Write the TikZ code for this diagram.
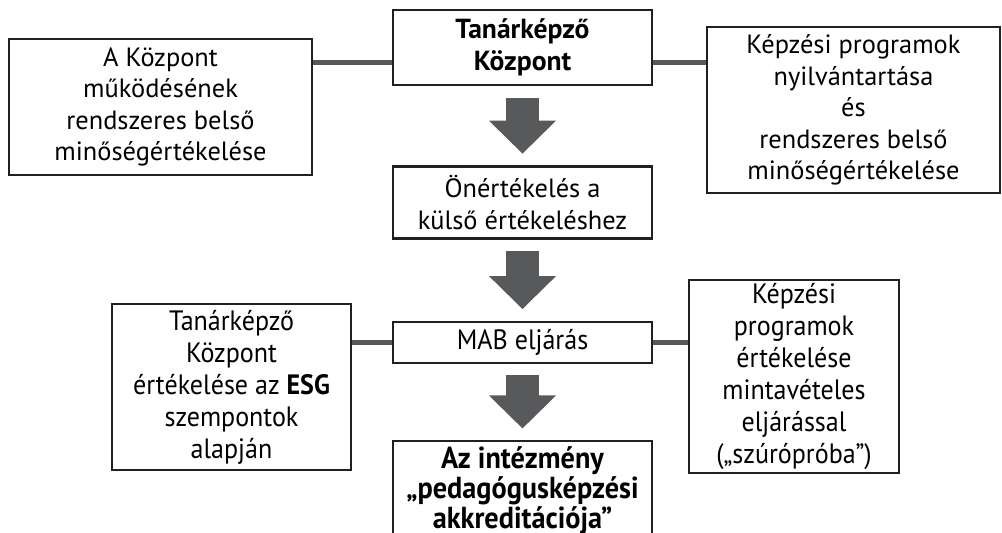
\documentclass[tikz,border=0pt]{standalone}
\usepackage{fontspec}
\setmainfont{PT Sans}
\newfontfamily\condfont[FakeStretch=0.93]{PT Sans}
\usepackage{tikz}
\usetikzlibrary{arrows.meta,positioning,calc}
\definecolor{boxline}{HTML}{231F20}
\definecolor{arrowgray}{HTML}{58595B}

\begin{document}
\begin{tikzpicture}[
  x=0.5pt, y=-0.5pt,
  node distance=39.5pt,
  txt/.style={font=\fontsize{13.2}{15.7}\selectfont},
  strong/.style={font=\fontsize{13.8}{16}\selectfont\bfseries},
  cond/.style={font=\condfont\fontsize{14}{16}\selectfont},
  condstrong/.style={font=\condfont\fontsize{15.2}{13.75}\selectfont\bfseries},
  box/.style={draw=boxline, line width=1.2pt, align=center, inner sep=0pt},
  wide/.style={box, minimum width=129.5pt},
  link/.style={draw=arrowgray, line width=2.5pt},
  bigarrow/.style={draw=arrowgray, line width=16.5pt, -{Triangle[length=16.5pt, width=32.5pt]}, shorten <=5.75pt, shorten >=5.75pt}
]
\useasboundingbox (0,0) rectangle (1002,533);

% middle column
\node[wide, strong, minimum height=37.5pt] (tk) at (522.5,47.5) {Tanárképző\\Központ};
\node[wide, txt, minimum height=36pt, below=39.5pt of tk] (ok) {Önértékelés a\\külső értékeléshez};
\node[wide, cond, minimum height=20.5pt, below=40.5pt of ok] (mab) {MAB eljárás};
\node[wide, condstrong, inner ysep=2.5pt, below=38pt of mab] (akk) {Az intézmény\\„pedagógusképzési\\akkreditációja”};

% side boxes
\node[box, txt, minimum width=151.5pt, minimum height=68pt] (lk) at (160.5,107) {A Központ\\működésének\\rendszeres belső\\minőségértékelése};
\node[box, txt, minimum width=146.5pt, minimum height=83pt] (rk) at (853.5,110) {Képzési programok\\nyilvántartása\\és\\rendszeres belső\\minőségértékelése};
\node[box, cond, minimum width=119.5pt, minimum height=83pt] (lb) at (231.5,387) {Tanárképző\\Központ\\értékelése az \textbf{ESG}\\szempontok\\alapján};
\node[box, cond, minimum width=105pt, minimum height=96.5pt] (rb) at (794,376.5) {Képzési\\programok\\értékelése\\mintavételes\\eljárással\\(„szúrópróba”)};

% connectors
\coordinate (tl) at ($(tk.west)!0.4!(tk.south west)$);
\coordinate (tr) at ($(tk.east)!0.4!(tk.south east)$);
\draw[link] (lk.east |- tl) -- (tl);
\draw[link] (tr) -- (rk.west |- tr);
\draw[link] (lb.east |- mab.west) -- (mab.west);
\draw[link] (mab.east) -- (rb.west |- mab.east);

\draw[bigarrow] (tk) -- (ok);
\draw[bigarrow] (ok) -- (mab);
\draw[bigarrow] (mab) -- (akk);
\end{tikzpicture}
\end{document}
